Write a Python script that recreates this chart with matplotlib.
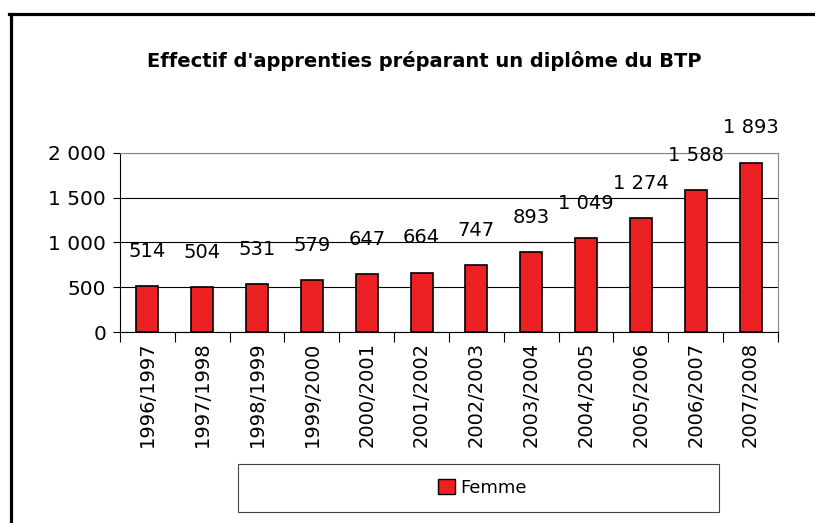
import matplotlib.pyplot as plt
from matplotlib.lines import Line2D
from matplotlib.patches import Rectangle, Patch
from matplotlib.ticker import FuncFormatter

# data
annees = ['1996/1997', '1997/1998', '1998/1999', '1999/2000', '2000/2001', '2001/2002',
          '2002/2003', '2003/2004', '2004/2005', '2005/2006', '2006/2007', '2007/2008']
femmes = [514, 504, 531, 579, 647, 664, 747, 893, 1049, 1274, 1588, 1893]
titre = "Effectif d'apprenties préparant un diplôme du BTP"

def sep(v):
    return '{:,}'.format(int(v)).replace(',', ' ')

fig = plt.figure(figsize=(8.15, 5.23), dpi=100)
ax = fig.add_axes([0.1472, 0.3652, 0.8074, 0.3423])

x = range(len(annees))
bars = ax.bar(x, femmes, width=0.4, color='#ED2024', edgecolor='black', linewidth=1.2, zorder=3)

for xi, v in zip(x, femmes):
    ax.annotate(sep(v), (xi, v), xytext=(0, 25), textcoords='offset points',
                ha='center', va='center', fontsize=14, clip_on=False)

ax.set_xlim(-0.5, len(annees) - 0.5)
ax.set_ylim(0, 2000)
ax.set_yticks([0, 500, 1000, 1500, 2000])
ax.yaxis.set_major_formatter(FuncFormatter(lambda v, p: sep(v)))
ax.yaxis.grid(True, color='black', linewidth=0.8, zorder=0)
ax.tick_params(axis='y', labelsize=14.5, length=5, width=0.8, pad=5)

# ticks between categories
ax.set_xticks([i - 0.5 for i in range(len(annees) + 1)], minor=False)
ax.set_xticklabels([])
ax.set_xticks(list(x), minor=True)
ax.set_xticklabels(annees, minor=True, rotation=90, fontsize=14)
ax.tick_params(axis='x', which='major', length=7, width=0.8)
ax.tick_params(axis='x', which='minor', length=0, pad=7)

for s in ['top', 'right']:
    ax.spines[s].set_color('#888888')
for s in ['left', 'bottom']:
    ax.spines[s].set_color('black')
    ax.spines[s].set_linewidth(0.8)

fig.text(0.52, 0.883, titre, ha='center', va='center', fontsize=14, fontweight='bold')

# outer frame (left and top only)
fig.add_artist(Line2D([10.5 / 815, 10.5 / 815], [0, 1 - 13.5 / 523], color='black', linewidth=2.3,
                      transform=fig.transFigure))
fig.add_artist(Line2D([9.4 / 815, 1], [1 - 13.5 / 523, 1 - 13.5 / 523], color='black', linewidth=2.3,
                      transform=fig.transFigure))

# legend box
fig.add_artist(Rectangle((238 / 815, 1 - 512 / 523), (719 - 238) / 815, 48 / 523,
                         transform=fig.transFigure, facecolor='white', edgecolor='#444444', linewidth=0.8))
fig.legend(handles=[Patch(facecolor='#ED2024', edgecolor='black', label='Femme')],
           loc='center', bbox_to_anchor=(0.592, 0.0669), frameon=False, fontsize=13,
           handlelength=0.9, handleheight=0.9, handletextpad=0.3)

fig.savefig('out.png', dpi=100, facecolor='white')
